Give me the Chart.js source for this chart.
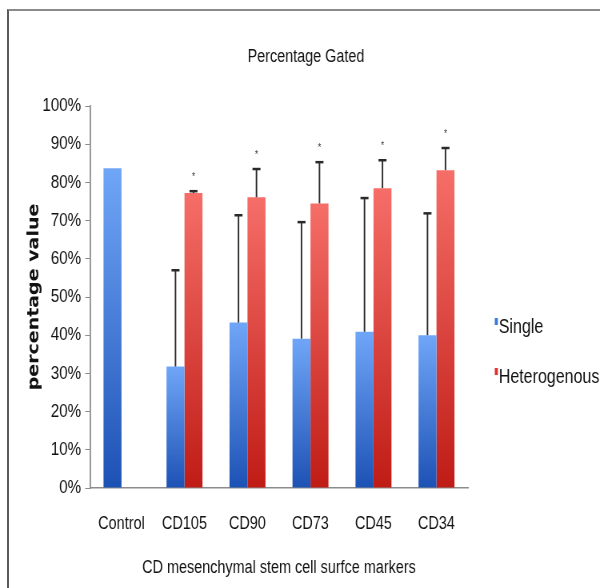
<!DOCTYPE html>
<html>
<head>
<meta charset="utf-8">
<script src="https://cdn.jsdelivr.net/npm/chart.js@4.4.0/dist/chart.umd.min.js"></script>
<style>
  html, body { margin: 0; padding: 0; background: #fff; }
  #wrap { position: relative; width: 600px; height: 588px; overflow: hidden; }
  #frame { position: absolute; left: 7px; top: 9px; width: 620px; height: 620px;
           border-top: 2px solid #8a8a8a; border-left: 2px solid #5a5a5a; }
  /* the source figure is horizontally condensed, so draw wide and squeeze */
  canvas { position: absolute; left: 0; top: 0; transform: scaleX(0.8); transform-origin: 0 0; }
</style>
</head>
<body>
<div id="wrap">
  <div id="frame"></div>
  <canvas id="js-chart-gated" width="750" height="588"></canvas>
</div>
<script>
// Chart data
const markers = ['Control', 'CD105', 'CD90', 'CD73', 'CD45', 'CD34'];
const singleValues = [83.7, 31.8, 43.3, 39.1, 40.9, 40.0];
const heteroValues = [null, 77.2, 76.1, 74.5, 78.5, 83.2];
const singleErrors = [null, 25.2, 28.1, 30.5, 35.0, 31.9];
const heteroErrors = [null, 0.5, 7.4, 10.8, 7.3, 5.8];
const heteroMarks = ['', '*', '*', '*', '*', '*'];
const seriesNames = ['Single', 'Heterogenous'];

const sans = '"Liberation Sans", Arial, sans-serif';

// vertical gradient over each bar, light at the top
function barGradient(light, dark) {
  return function (context) {
    const chart = context.chart;
    if (!chart.chartArea || context.raw == null) return dark;
    const y = chart.scales.y;
    const top = y.getPixelForValue(context.raw);
    const bottom = y.getPixelForValue(0);
    const g = chart.ctx.createLinearGradient(0, top, 0, bottom);
    g.addColorStop(0, light);
    g.addColorStop(1, dark);
    return g;
  };
}

const legendColors = ['#3b78e0', '#e0302a'];

// upward error bars plus the small asterisks
const errorBarsPlugin = {
  id: 'errorBars',
  afterDatasetsDraw(chart) {
    const ctx = chart.ctx;
    const y = chart.scales.y;
    const errs = [singleErrors, heteroErrors];
    ctx.save();
    chart.data.datasets.forEach((ds, i) => {
      const meta = chart.getDatasetMeta(i);
      meta.data.forEach((bar, j) => {
        const v = ds.data[j];
        const e = errs[i][j];
        if (v == null || e == null) return;
        const yTop = y.getPixelForValue(v + e);
        const yBar = y.getPixelForValue(v);
        ctx.strokeStyle = '#2a2a2a';
        ctx.lineWidth = 1.9;
        ctx.beginPath();
        ctx.moveTo(bar.x, yBar);
        ctx.lineTo(bar.x, yTop);
        ctx.stroke();
        ctx.lineWidth = 2.5;
        ctx.beginPath();
        ctx.moveTo(bar.x - 5, yTop);
        ctx.lineTo(bar.x + 5, yTop);
        ctx.stroke();
        if (i === 1 && heteroMarks[j]) {
          ctx.fillStyle = '#333';
          ctx.font = '10px ' + sans;
          ctx.textAlign = 'center';
          ctx.textBaseline = 'middle';
          ctx.fillText(heteroMarks[j], bar.x, yTop - 14);
        }
      });
    });
    ctx.restore();
  }
};

// legend to the right of the plot
const sideLegendPlugin = {
  id: 'sideLegend',
  afterDraw(chart) {
    const ctx = chart.ctx;
    ctx.save();
    ctx.font = '20px ' + sans;
    ctx.textBaseline = 'alphabetic';
    ctx.textAlign = 'left';
    chart.data.datasets.forEach((ds, i) => {
      const base = 333 + i * 50;
      ctx.fillStyle = legendColors[i];
      ctx.fillRect(618.5, base - 15, 3.8, 7);
      ctx.fillStyle = '#111';
      ctx.fillText(ds.label, 623.5, base);
    });
    ctx.restore();
  }
};

let chartCon = document.getElementById('js-chart-gated');

let chartData = {
  labels: markers,
  datasets: [
    {
      label: seriesNames[0],
      data: singleValues,
      backgroundColor: barGradient('#70a6f8', '#1d52b5'),
      categoryPercentage: 0.571,
      barPercentage: 1.0
    },
    {
      label: seriesNames[1],
      data: heteroValues,
      backgroundColor: barGradient('#f66e68', '#c01c16'),
      categoryPercentage: 0.571,
      barPercentage: 1.0
    }
  ]
};

let chartOptions = {
  responsive: false,
  animation: false,
  layout: { padding: { left: 15, right: 0, top: 0, bottom: 0 } },
  plugins: {
    legend: { display: false },
    tooltip: { enabled: false },
    title: {
      display: true,
      text: 'Percentage Gated',
      color: '#111',
      font: { family: sans, size: 18, weight: 'normal' },
      padding: { top: 46.2, bottom: 38.2 }
    }
  },
  scales: {
    x: {
      grid: { display: false },
      border: { display: true, color: '#8c8c8c', width: 1.5 },
      ticks: { color: '#111', font: { family: sans, size: 18 }, padding: 17, maxRotation: 0 },
      title: {
        display: true,
        text: 'CD mesenchymal stem cell surfce markers',
        color: '#111',
        font: { family: sans, size: 18 },
        padding: { top: 0, bottom: 9 }
      },
      afterFit(scale) { scale.height = 100; }
    },
    y: {
      min: 0,
      max: 100,
      grid: { display: true, drawOnChartArea: false, drawTicks: true, tickLength: 6, color: '#8c8c8c' },
      border: { display: true, color: '#8c8c8c', width: 1.8 },
      ticks: {
        stepSize: 10,
        color: '#111',
        padding: 5,
        font: { family: sans, size: 19 },
        callback: function (v) { return v + '%'; }
      },
      title: {
        display: true,
        text: 'percentage value',
        color: '#111',
        font: { family: '"DejaVu Sans", sans-serif', size: 19, weight: 'bold' },
        padding: { top: 17, bottom: 0 }
      },
      afterFit(scale) { scale.width = 97.5; }
    },
    spacer: {
      type: 'linear',
      position: 'right',
      display: true,
      grid: { display: false },
      border: { display: false },
      ticks: { display: false },
      afterFit(scale) { scale.width = 165; }
    }
  }
};

new Chart(chartCon, {
  type: 'bar',
  data: chartData,
  options: chartOptions,
  plugins: [errorBarsPlugin, sideLegendPlugin]
});
</script>
</body>
</html>
